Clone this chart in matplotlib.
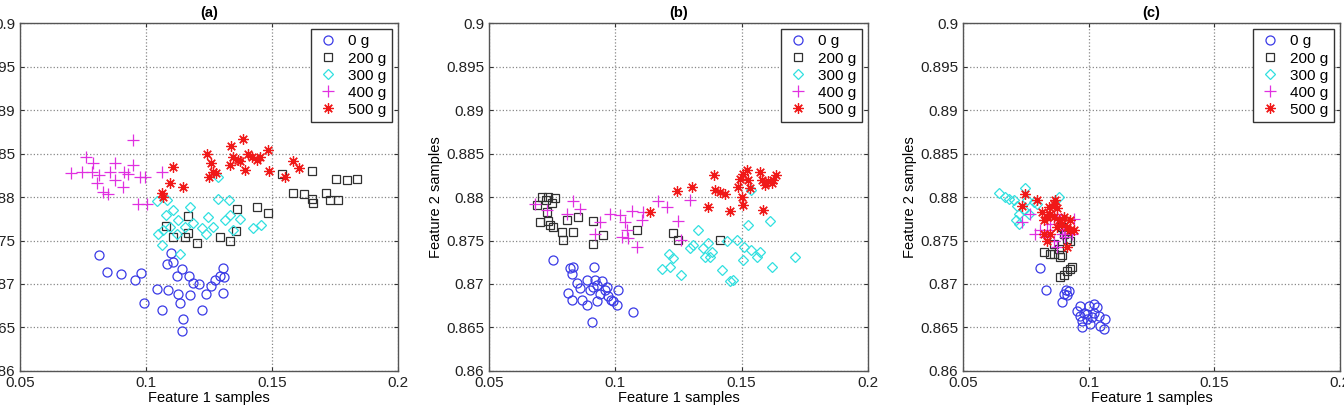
import numpy as np
import matplotlib
matplotlib.use("Agg")
import matplotlib.pyplot as plt

plt.rcParams['font.family'] = ['Liberation Sans', 'DejaVu Sans']

# nhãn các lớp (khối lượng tải)
labels = ['0 g', '200 g', '300 g', '400 g', '500 g']

# ---- panel (a) ----
a_0_x = [0.0814, 0.0847, 0.0900, 0.0956, 0.0980, 0.0992, 0.1042, 0.1065, 0.1098, 0.1082,
         0.1108, 0.1141, 0.1124, 0.1089, 0.1128, 0.1135, 0.1148, 0.1141, 0.1172, 0.1174,
         0.1210, 0.1221, 0.1238, 0.1256, 0.1273, 0.1293, 0.1306, 0.1304, 0.1309, 0.1188]
a_0_y = [0.8733, 0.8714, 0.8711, 0.8705, 0.8713, 0.8678, 0.8694, 0.8670, 0.8736, 0.8723,
         0.8725, 0.8717, 0.8709, 0.8693, 0.8689, 0.8678, 0.8660, 0.8646, 0.8709, 0.8687,
         0.8700, 0.8670, 0.8689, 0.8698, 0.8705, 0.8709, 0.8718, 0.8690, 0.8708, 0.8701]
a_200_x = [0.1078, 0.1106, 0.1168, 0.1165, 0.1203, 0.1293, 0.1333, 0.1363, 0.1439, 0.1485,
           0.1538, 0.1660, 0.1584, 0.1626, 0.1660, 0.1663, 0.1716, 0.1729, 0.1756, 0.1798,
           0.1837, 0.1762, 0.1359, 0.1155]
a_200_y = [0.8767, 0.8754, 0.8778, 0.8759, 0.8747, 0.8754, 0.8749, 0.8786, 0.8789, 0.8782,
           0.8826, 0.8830, 0.8805, 0.8804, 0.8798, 0.8793, 0.8805, 0.8797, 0.8821, 0.8820,
           0.8821, 0.8797, 0.8761, 0.8754]
a_300_x = [0.1042, 0.1082, 0.1078, 0.1106, 0.1049, 0.1062, 0.1069, 0.1128, 0.1135, 0.1174,
           0.1155, 0.1188, 0.1221, 0.1247, 0.1267, 0.1287, 0.1330, 0.1313, 0.1333, 0.1346,
           0.1373, 0.1425, 0.1458, 0.1287, 0.1095, 0.1122, 0.1240]
a_300_y = [0.8795, 0.8797, 0.8779, 0.8785, 0.8758, 0.8745, 0.8762, 0.8774, 0.8735, 0.8788,
           0.8766, 0.8770, 0.8764, 0.8777, 0.8766, 0.8798, 0.8797, 0.8774, 0.8779, 0.8762,
           0.8775, 0.8764, 0.8768, 0.8823, 0.8766, 0.8758, 0.8758]
a_400_x = [0.0701, 0.0745, 0.0762, 0.0791, 0.0785, 0.0815, 0.0804, 0.0831, 0.0851, 0.0857,
           0.0877, 0.0877, 0.0910, 0.0913, 0.0930, 0.0947, 0.0950, 0.0976, 0.0996, 0.0970,
           0.1003, 0.1065]
a_400_y = [0.8828, 0.8829, 0.8846, 0.8839, 0.8829, 0.8825, 0.8816, 0.8806, 0.8804, 0.8829,
           0.8839, 0.8820, 0.8812, 0.8829, 0.8827, 0.8837, 0.8865, 0.8823, 0.8823, 0.8792,
           0.8792, 0.8829]
a_500_x = [0.1062, 0.1066, 0.1095, 0.1106, 0.1148, 0.1243, 0.1256, 0.1251, 0.1267, 0.1277,
           0.1339, 0.1333, 0.1346, 0.1366, 0.1386, 0.1373, 0.1392, 0.1406, 0.1419, 0.1439,
           0.1452, 0.1485, 0.1489, 0.1551, 0.1584, 0.1608]
a_500_y = [0.8805, 0.8800, 0.8816, 0.8834, 0.8811, 0.8849, 0.8839, 0.8823, 0.8829, 0.8828,
           0.8859, 0.8837, 0.8846, 0.8843, 0.8867, 0.8841, 0.8831, 0.8850, 0.8846, 0.8843,
           0.8846, 0.8854, 0.8830, 0.8823, 0.8841, 0.8833]

# ---- panel (b) ----
b_0_x = [0.0755, 0.0821, 0.0834, 0.0827, 0.0814, 0.0827, 0.0860, 0.0867, 0.0887, 0.0900,
         0.0916, 0.0910, 0.0920, 0.0926, 0.0939, 0.0946, 0.0959, 0.0972, 0.0985, 0.1005,
         0.1012, 0.1071, 0.0906, 0.0887, 0.0847, 0.0929, 0.0966, 0.0992]
b_0_y = [0.8728, 0.8718, 0.8720, 0.8712, 0.8690, 0.8682, 0.8695, 0.8682, 0.8705, 0.8693,
         0.8720, 0.8697, 0.8705, 0.8680, 0.8689, 0.8703, 0.8693, 0.8686, 0.8682, 0.8676,
         0.8693, 0.8668, 0.8656, 0.8676, 0.8701, 0.8699, 0.8697, 0.8680]
b_200_x = [0.0689, 0.0708, 0.0726, 0.0735, 0.0761, 0.0702, 0.0735, 0.0741, 0.0755, 0.0728,
           0.0788, 0.0807, 0.0854, 0.0913, 0.0913, 0.0950, 0.1084, 0.1230, 0.1249, 0.1414,
           0.0834, 0.0794, 0.0748]
b_200_y = [0.8791, 0.8800, 0.8797, 0.8800, 0.8799, 0.8771, 0.8772, 0.8768, 0.8766, 0.8783,
           0.8760, 0.8774, 0.8777, 0.8772, 0.8746, 0.8756, 0.8762, 0.8759, 0.8751, 0.8751,
           0.8760, 0.8751, 0.8793]
b_300_x = [0.1183, 0.1216, 0.1214, 0.1227, 0.1262, 0.1295, 0.1309, 0.1328, 0.1348, 0.1355,
           0.1368, 0.1381, 0.1375, 0.1421, 0.1441, 0.1454, 0.1467, 0.1480, 0.1504, 0.1526,
           0.1539, 0.1559, 0.1572, 0.1612, 0.1619, 0.1711, 0.1509, 0.1539]
b_300_y = [0.8717, 0.8720, 0.8735, 0.8730, 0.8710, 0.8741, 0.8745, 0.8762, 0.8741, 0.8731,
           0.8747, 0.8737, 0.8731, 0.8716, 0.8749, 0.8703, 0.8705, 0.8751, 0.8728, 0.8768,
           0.8739, 0.8731, 0.8737, 0.8772, 0.8720, 0.8731, 0.8743, 0.8808]
b_400_x = [0.0682, 0.0728, 0.0834, 0.0860, 0.0807, 0.0920, 0.0939, 0.0979, 0.1018, 0.1038,
           0.1045, 0.1051, 0.1065, 0.1084, 0.1111, 0.1104, 0.1170, 0.1203, 0.1249, 0.1262,
           0.1295, 0.1025]
b_400_y = [0.8792, 0.8785, 0.8795, 0.8786, 0.8781, 0.8758, 0.8771, 0.8781, 0.8779, 0.8771,
           0.8762, 0.8753, 0.8784, 0.8743, 0.8783, 0.8774, 0.8795, 0.8789, 0.8772, 0.8751,
           0.8797, 0.8754]
b_500_x = [0.1137, 0.1245, 0.1302, 0.1368, 0.1390, 0.1394, 0.1414, 0.1434, 0.1454, 0.1500,
           0.1507, 0.1493, 0.1520, 0.1526, 0.1533, 0.1572, 0.1579, 0.1592, 0.1605, 0.1619,
           0.1638, 0.1586, 0.1487, 0.1507, 0.1625]
b_500_y = [0.8783, 0.8807, 0.8811, 0.8789, 0.8825, 0.8808, 0.8806, 0.8804, 0.8784, 0.8800,
           0.8791, 0.8821, 0.8831, 0.8820, 0.8810, 0.8829, 0.8820, 0.8814, 0.8818, 0.8816,
           0.8825, 0.8785, 0.8812, 0.8827, 0.8820]

# ---- panel (c) ----
c_0_x = [0.0808, 0.0832, 0.0894, 0.0901, 0.0911, 0.0914, 0.0921, 0.0967, 0.0980, 0.1000,
         0.1020, 0.1033, 0.0967, 0.0993, 0.1013, 0.1040, 0.1066, 0.0974, 0.1007, 0.1046,
         0.1060, 0.0993, 0.1023, 0.0974, 0.0954]
c_0_y = [0.8718, 0.8693, 0.8679, 0.8688, 0.8693, 0.8687, 0.8692, 0.8675, 0.8667, 0.8675,
         0.8677, 0.8673, 0.8663, 0.8660, 0.8662, 0.8663, 0.8660, 0.8650, 0.8654, 0.8652,
         0.8648, 0.8665, 0.8667, 0.8658, 0.8669]
c_200_x = [0.0824, 0.0848, 0.0861, 0.0887, 0.0894, 0.0881, 0.0887, 0.0901, 0.0914, 0.0927,
           0.0934, 0.0901, 0.0914, 0.0907, 0.0894, 0.0927, 0.0861]
c_200_y = [0.8737, 0.8735, 0.8735, 0.8731, 0.8733, 0.8740, 0.8708, 0.8710, 0.8715, 0.8717,
           0.8719, 0.8758, 0.8752, 0.8762, 0.8765, 0.8750, 0.8746]
c_300_x = [0.0642, 0.0669, 0.0702, 0.0715, 0.0722, 0.0722, 0.0748, 0.0755, 0.0762, 0.0781,
           0.0795, 0.0881, 0.0709, 0.0682, 0.0742]
c_300_y = [0.8805, 0.8800, 0.8796, 0.8790, 0.8781, 0.8769, 0.8810, 0.8796, 0.8781, 0.8794,
           0.8792, 0.8800, 0.8773, 0.8798, 0.8785]
c_400_x = [0.0735, 0.0768, 0.0788, 0.0808, 0.0834, 0.0861, 0.0874, 0.0887, 0.0894, 0.0907,
           0.0934, 0.0940, 0.0874, 0.0861, 0.0828, 0.0901, 0.0848]
c_400_y = [0.8771, 0.8781, 0.8758, 0.8762, 0.8762, 0.8777, 0.8781, 0.8773, 0.8758, 0.8754,
           0.8758, 0.8775, 0.8742, 0.8750, 0.8754, 0.8763, 0.8769]
c_500_x = [0.0748, 0.0735, 0.0795, 0.0815, 0.0821, 0.0834, 0.0841, 0.0848, 0.0861, 0.0868,
           0.0874, 0.0861, 0.0881, 0.0894, 0.0901, 0.0914, 0.0927, 0.0940, 0.0821, 0.0848,
           0.0914, 0.0927, 0.0834, 0.0874]
c_500_y = [0.8804, 0.8790, 0.8796, 0.8783, 0.8773, 0.8777, 0.8788, 0.8781, 0.8792, 0.8796,
           0.8787, 0.8777, 0.8773, 0.8769, 0.8777, 0.8765, 0.8762, 0.8762, 0.8758, 0.8758,
           0.8742, 0.8773, 0.8750, 0.8765]

panels = [
    ('(a)', [(a_0_x, a_0_y), (a_200_x, a_200_y), (a_300_x, a_300_y), (a_400_x, a_400_y), (a_500_x, a_500_y)]),
    ('(b)', [(b_0_x, b_0_y), (b_200_x, b_200_y), (b_300_x, b_300_y), (b_400_x, b_400_y), (b_500_x, b_500_y)]),
    ('(c)', [(c_0_x, c_0_y), (c_200_x, c_200_y), (c_300_x, c_300_y), (c_400_x, c_400_y), (c_500_x, c_500_y)]),
]

x_ticks = [0.05, 0.1, 0.15, 0.2]
x_ticklabels = ['0.05', '0.1', '0.15', '0.2']
y_ticks = [0.86, 0.865, 0.87, 0.875, 0.88, 0.885, 0.89, 0.895, 0.9]
y_ticklabels = ['0.86', '0.865', '0.87', '0.875', '0.88', '0.885', '0.89', '0.895', '0.9']

# kiểu marker giống MATLAB ('*' của MATLAB là dấu sao dạng nét)
markers = ['o', 's', 'D', '+', (8, 2, 0)]
colors = ['#3a3ae6', '#303030', '#30e0e0', '#e030e0', '#f01818']
msizes = [6.5, 5.5, 5, 8, 7.5]

fig = plt.figure(figsize=(13.44, 4.13), dpi=100)
positions = [[0.0149, 0.1017, 0.2812, 0.8426],
             [0.3638, 0.1017, 0.2820, 0.8426],
             [0.7165, 0.1017, 0.2805, 0.8426]]

for k, (title, series) in enumerate(panels):
    ax = fig.add_axes(positions[k])
    for (xs, ys), m, c, ms, lab in zip(series, markers, colors, msizes, labels):
        ax.plot(xs, ys, linestyle='none', marker=m, markersize=ms,
                markerfacecolor='none', markeredgecolor=c, markeredgewidth=0.9, label=lab)
    ax.set_xlim(0.05, 0.2)
    ax.set_ylim(0.86, 0.9)
    ax.set_xticks(x_ticks)
    ax.set_xticklabels(x_ticklabels)
    ax.set_yticks(y_ticks)
    ax.set_yticklabels(y_ticklabels)
    ax.tick_params(direction='in', length=3, labelsize=11, top=True, right=True,
                   colors='#333333', labelcolor='#222222')
    ax.grid(True, linestyle=':', color='#888888', linewidth=0.9)
    for s in ax.spines.values():
        s.set_color('#555555')
        s.set_linewidth(1.0)
    ax.set_xlabel('Feature 1 samples', fontsize=10.5, labelpad=1)
    if k > 0:
        ax.set_ylabel('Feature 2 samples', fontsize=10.5, labelpad=2)
    ax.set_title(title, fontsize=10.5, fontweight='bold', pad=4)
    leg = ax.legend(loc='upper right', fontsize=11, fancybox=False, framealpha=1,
                    edgecolor='#333333', borderaxespad=0.4, handletextpad=0.6,
                    labelspacing=0.2, handlelength=1.5, borderpad=0.35)
    leg.get_frame().set_linewidth(1.0)

fig.savefig('out.png', dpi=100)
